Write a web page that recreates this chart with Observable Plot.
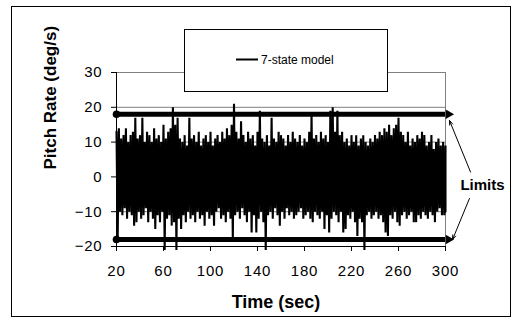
<!DOCTYPE html>
<html>
<head>
<meta charset="utf-8">
<script src="https://cdn.jsdelivr.net/npm/d3@7"></script>
<script src="https://cdn.jsdelivr.net/npm/@observablehq/plot@0.6"></script>
<style>
  html, body { margin: 0; padding: 0; background: #fff; }
  #chart { width: 519px; height: 320px; }
  #chart svg g[aria-label="x-axis tick label"] text,
  #chart svg g[aria-label="y-axis tick label"] text { letter-spacing: 0.8px; }
</style>
</head>
<body>
<div id="chart"></div>
<script>
// ---- data ----
const seriesName = "7-state model";
const startTime = 20;   // s
const step = 2;         // s between envelope samples
// upper envelope of pitch rate (deg/s), t = 20, 22, ..., 300
const hiValues = [
  13,14,11,12,14,10,12,13,17,11,
  12,17,10,13,12,10,14,11,12,10,
  15,11,13,14,20,15,17,11,10,12,
  9,17,11,12,10,13,9,11,12,10,
  13,9,11,12,10,13,11,14,12,15,
  21,13,11,16,12,10,13,11,12,9,
  13,19,11,10,12,9,17,11,10,13,
  12,11,9,12,10,13,11,10,12,9,
  11,10,13,18,11,12,10,13,11,12,
  10,19,20,13,19,12,13,10,11,9,
  12,10,12,9,11,12,10,9,11,10,
  12,11,13,12,14,13,15,12,14,15,
  17,13,12,10,13,9,11,10,12,11,
  13,12,9,10,12,8,10,11,9,10,
  9
];
// lower envelope of pitch rate (deg/s), t = 21, 23, ..., 300
const loValues = [
  -18,-10,-11,-9,-12,-10,-11,-14,-13,-10,
  -12,-11,-9,-13,-10,-12,-15,-11,-13,-10,
  -21,-12,-11,-14,-13,-21,-12,-15,-11,-13,
  -10,-12,-11,-13,-10,-12,-11,-14,-10,-12,
  -11,-14,-10,-9,-12,-11,-13,-10,-12,-18,
  -11,-10,-12,-9,-11,-13,-10,-16,-11,-16,
  -12,-10,-13,-21,-11,-10,-12,-9,-11,-14,
  -10,-12,-9,-11,-10,-12,-11,-10,-9,-12,
  -11,-10,-12,-13,-10,-11,-12,-10,-15,-11,
  -16,-12,-10,-11,-13,-10,-16,-15,-11,-12,
  -10,-13,-17,-12,-13,-21,-11,-10,-12,-11,
  -10,-12,-11,-13,-16,-17,-11,-12,-10,-13,
  -14,-11,-10,-12,-11,-10,-13,-13,-11,-12,
  -10,-11,-12,-10,-11,-13,-10,-9,-11,-11,
  -10
];
const limitValues = [18, -18];
const limitStart = 20, limitEnd = 300;
const xTicks = [20, 60, 100, 140, 180, 220, 260, 300];
const yTicks = [-20, -10, 0, 10, 20, 30];
const xTitle = "Time (sec)";
const yTitle = "Pitch Rate (deg/s)";
const limitLabel = "Limits";
const limitLabelAt = {t: 331.5, v: -2.5};
const limitArrows = [
  {t1: 321.3, v1: 1.4,  t2: 303.4, v2: 16.2},
  {t1: 320.4, v1: -6.2, t2: 306.0, v2: -18.0}
];

// ---- build signal from envelopes ----
const signal = [];
hiValues.forEach((h, i) => {
  const t = startTime + step * i;
  signal.push({t, v: h});
  signal.push({t: Math.min(300, t + 1), v: loValues[i]});
});
const limits = limitValues.map(v => ({v}));

const font = "'Liberation Sans', Arial, Helvetica, sans-serif";

const plot = Plot.plot({
  width: 519, height: 320,
  marginLeft: 116, marginRight: 74, marginTop: 72, marginBottom: 74,
  style: {fontFamily: font, fontSize: "15px", color: "black", background: "white", overflow: "visible"},
  x: {domain: [20, 300], label: null},
  y: {domain: [-20, 30], label: null},
  marks: [
    Plot.gridY(yTicks, {stroke: "#808080", strokeOpacity: 1, strokeWidth: 1}),
    Plot.ruleX([300], {stroke: "#808080", strokeWidth: 1}),
    Plot.line(signal, {x: "t", y: "v", stroke: "black", strokeWidth: 2.1, strokeLinejoin: "miter", strokeMiterlimit: 2}),
    Plot.ruleY(limits, {y: "v", x1: limitStart, x2: limitEnd, stroke: "black", strokeWidth: 5}),
    Plot.dot(limits, {x: () => limitStart, y: "v", r: 3.8, fill: "black", stroke: null}),
    Plot.dot(limits, {x: () => limitEnd, y: "v", symbol: "triangle2", rotate: 90, r: 4.6, dx: 3, fill: "black", stroke: null}),
    Plot.ruleX([20], {stroke: "black", strokeWidth: 1}),
    Plot.ruleY([-20], {stroke: "black", strokeWidth: 1}),
    Plot.axisX({ticks: xTicks, tickSize: 5, tickPadding: 14, fontSize: 15, label: null, stroke: "black"}),
    Plot.axisY({ticks: yTicks, tickSize: 5, tickPadding: 9, fontSize: 15, label: null, stroke: "black"}),
    Plot.arrow(limitArrows, {x1: "t1", y1: "v1", x2: "t2", y2: "v2", stroke: "black", strokeWidth: 1, headLength: 7, headAngle: 40}),
    Plot.text([limitLabel], {x: () => limitLabelAt.t, y: () => limitLabelAt.v, text: d => d, fontWeight: "bold", fontSize: 15, fill: "black", letterSpacing: "1px"}),
    Plot.text([xTitle], {frameAnchor: "bottom", text: d => d, dx: -5, dy: 56, lineAnchor: "middle", fontWeight: "bold", fontSize: 18, fill: "black", letterSpacing: "0.6px"}),
    Plot.text([yTitle], {frameAnchor: "left", text: d => d, rotate: -90, dx: -66, dy: 10, lineAnchor: "middle", fontWeight: "bold", fontSize: 17, fill: "black"})
  ]
});

const svg = d3.select(plot);
// outer chart border
svg.append("rect")
  .attr("x", 11.5).attr("y", 6.5).attr("width", 499).attr("height", 310)
  .attr("fill", "none").attr("stroke", "black").attr("stroke-width", 1);
// legend box
const lg = svg.append("g");
lg.append("rect")
  .attr("x", 184.5).attr("y", 29.5).attr("width", 203).attr("height", 62)
  .attr("fill", "white").attr("stroke", "black").attr("stroke-width", 1);
lg.append("line")
  .attr("x1", 236).attr("x2", 258).attr("y1", 59.5).attr("y2", 59.5)
  .attr("stroke", "black").attr("stroke-width", 2);
lg.append("text")
  .attr("x", 261).attr("y", 63.5)
  .attr("text-anchor", "start")
  .attr("font-family", font).attr("font-size", 12).attr("fill", "black")
  .text(seriesName);

document.getElementById("chart").appendChild(plot);
</script>
</body>
</html>
